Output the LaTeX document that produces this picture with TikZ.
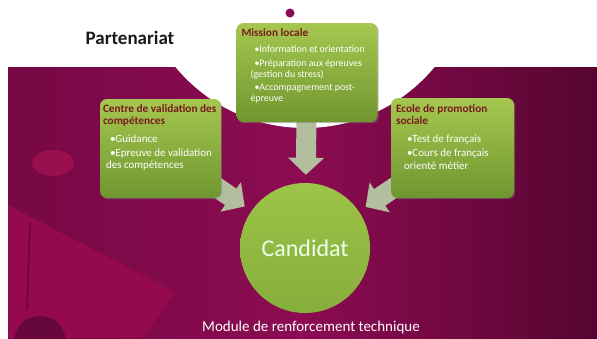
\documentclass[tikz,border=0pt]{standalone}
\usepackage{fontspec}
\setmainfont{Carlito}
\usepackage{xcolor}
\usepackage{tikz}
\usetikzlibrary{arrows.meta,positioning,shadows}

\definecolor{slidebg}{HTML}{8C0B52}
\definecolor{slideleft}{HTML}{760944}
\definecolor{slidedark}{HTML}{560530}
\definecolor{slidelight}{HTML}{940A4C}
\definecolor{slidespot}{HTML}{9A0F4E}
\definecolor{slideshade}{HTML}{66073C}
\definecolor{boxtop}{HTML}{A6C850}
\definecolor{boxbottom}{HTML}{6F962F}
\definecolor{titlered}{HTML}{7A1A1E}
\definecolor{arrowgrey}{HTML}{B3BE9E}
\definecolor{candtop}{HTML}{9CC448}
\definecolor{candbottom}{HTML}{86AE3B}

\pgfdeclarelayer{backdrop}
\pgfdeclarelayer{behind}
\pgfsetlayers{backdrop,behind,main}

\newcommand{\boxlines}[3]{\parbox[t]{#1}{\raggedright
  {\fontsize{11.3}{12}\selectfont\bfseries\color{titlered}#2\par}\vspace{5.5pt}#3\par}}

\begin{document}
\begin{tikzpicture}[
    x=1pt, y=-1pt,
    partner/.style={rectangle, rounded corners=7pt, top color=boxtop, bottom color=boxbottom,
        drop shadow={shadow xshift=1.2pt, shadow yshift=-1.2pt, opacity=.45},
        minimum width=121pt, minimum height=99pt, inner sep=0pt},
    partnertext/.style={inner sep=0pt, text=white, font=\fontsize{11}{12.5}\selectfont},
    candidate/.style={circle, top color=candtop, bottom color=candbottom, minimum size=130pt,
        inner sep=0pt, text=white!93!green, font=\fontsize{24}{28}\selectfont},
    feed/.style={line width=20pt, draw=arrowgrey, -{Triangle[length=17pt, width=35pt]}, shorten >=8pt}
]
\useasboundingbox (0,0) rectangle (597,338);

% Slide background
\begin{pgfonlayer}{backdrop}
\fill[white] (0,0) rectangle (597,338);
\shade[left color=slideleft, right color=slidedark, middle color=slidebg] (8,67) rectangle (597,338);
\fill[slidelight] (8,205) -- (175,292) -- (143,338) -- (8,338) -- cycle;
\fill[slideshade] (40,342) circle[radius=26pt];
\draw[slideshade, line width=1.5pt] (30,222) -- (27,310);
\fill[slidespot] (53,163) ellipse[x radius=21pt, y radius=13pt];
\fill[white] (305,-40) circle[radius=168pt];
\fill[slidebg] (290,13) circle[radius=4.5pt];
\end{pgfonlayer}

% Title
\node[font=\fontsize{19}{22}\selectfont\bfseries, text=black!90] (title) at (130,38) {Partenariat};

% Partners
\node[partner] (cvc) at (160.5,148.5) {};
\node[partner, minimum width=141pt] (ml) at (307,72.5) {};
\node[partner, minimum width=123pt, minimum height=100pt] (epros) at (452.5,148) {};

\node[partnertext, below right=6pt and 3pt of cvc.north west] (cvctext)
    {\boxlines{120pt}{Centre de validation des\\compétences}
    {\hspace*{7pt}•Guidance\\[1pt]\hspace*{7pt}•Epreuve de validation\\\hspace*{3pt}des compétences}};
\node[partnertext, font=\fontsize{9.9}{11}\selectfont, below right=5.5pt and 5pt of ml.north west] (mltext)
    {\boxlines{138pt}{Mission locale}
    {\hspace*{13pt}•Information et orientation\\[2.5pt]\hspace*{13pt}•Préparation aux épreuves\\\hspace*{9pt}(gestion du stress)\\[2.5pt]\hspace*{13pt}•Accompagnement post-\\\hspace*{9pt}épreuve}};
\node[partnertext, below right=7pt and 5pt of epros.north west] (eprostext)
    {\boxlines{118pt}{Ecole de promotion\\sociale}
    {\hspace*{11pt}•Test de français\\[1.5pt]\hspace*{11pt}•Cours de français\\\hspace*{8pt}orienté métier}};

% Candidate
\node[candidate] (cand) at (305,248) {Candidat};

% Flows
\begin{pgfonlayer}{behind}
\draw[feed] (ml.center) -- (cand);
\draw[feed] (cvc.center) -- (cand);
\draw[feed] (epros.center) -- (cand);
\end{pgfonlayer}

\node[font=\fontsize{15}{17}\selectfont, text=white] (module) at (311,327) {Module de renforcement technique};
\end{tikzpicture}
\end{document}
